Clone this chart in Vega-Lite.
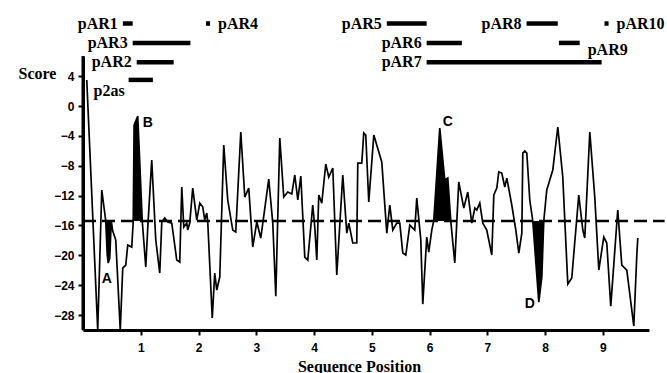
{
  "$schema": "https://vega.github.io/schema/vega-lite/v6.json",
  "width": 566,
  "height": 274,
  "autosize": {"type": "none"},
  "padding": {"left": 83, "top": 56, "right": 18, "bottom": 43},
  "background": "white",
  "config": {"view": {"stroke": null}},
  "datasets": {
    "score": [
      {"x":0.065,"y":3.49},{"x":0.255,"y":-30},{"x":0.325,"y":-11.25},
      {"x":0.394,"y":-15.4,"region":"A"},{"x":0.42,"y":-19.96,"region":"A"},{"x":0.437,"y":-21.03,"region":"A"},{"x":0.463,"y":-20.36,"region":"A"},{"x":0.489,"y":-15.4,"region":"A"},
      {"x":0.515,"y":-16.75},{"x":0.567,"y":-17.95},{"x":0.645,"y":-30},{"x":0.688,"y":-21.71},{"x":0.74,"y":-21.3},{"x":0.775,"y":-18.62},{"x":0.844,"y":-18.89},
      {"x":0.87,"y":-15.4,"region":"B"},{"x":0.885,"y":-2.55,"region":"B"},{"x":0.948,"y":-1.34,"region":"B"},{"x":1.026,"y":-15.4,"region":"B"},
      {"x":1.087,"y":-21.57},{"x":1.121,"y":-16.35},{"x":1.19,"y":-7.23},{"x":1.26,"y":-17.95},{"x":1.329,"y":-22.37},{"x":1.364,"y":-15.54},{"x":1.416,"y":-15.0},{"x":1.468,"y":-15.54},{"x":1.537,"y":-15.68},{"x":1.623,"y":-20.63},{"x":1.675,"y":-20.9},{"x":1.71,"y":-10.85},{"x":1.745,"y":-16.21},{"x":1.797,"y":-15.68},{"x":1.814,"y":-16.61},{"x":1.848,"y":-15.68},{"x":1.9,"y":-10.99},{"x":1.97,"y":-15.27},{"x":2.022,"y":-13.0},{"x":2.074,"y":-13.53},{"x":2.108,"y":-15.27},{"x":2.143,"y":-14.34},{"x":2.16,"y":-15.54},{"x":2.238,"y":-28.4},{"x":2.281,"y":-22.37},{"x":2.316,"y":-24.65},{"x":2.368,"y":-22.91},{"x":2.437,"y":-5.23},{"x":2.506,"y":-12.59},{"x":2.593,"y":-16.61},{"x":2.645,"y":-16.88},{"x":2.732,"y":-3.48},{"x":2.801,"y":-12.19},{"x":2.87,"y":-10.99},{"x":2.939,"y":-18.89},{"x":3.009,"y":-15.54},{"x":3.078,"y":-17.68},{"x":3.216,"y":-9.78},{"x":3.286,"y":-15.68},{"x":3.338,"y":-25.46},{"x":3.407,"y":-4.29},{"x":3.476,"y":-12.19},{"x":3.545,"y":-11.52},{"x":3.615,"y":-11.79},{"x":3.667,"y":-9.24},{"x":3.719,"y":-12.59},{"x":3.771,"y":-9.38},{"x":3.84,"y":-20.23},{"x":3.892,"y":-20.63},{"x":3.978,"y":-13.26},{"x":4.013,"y":-16.21},{"x":4.048,"y":-20.63},{"x":4.082,"y":-11.92},{"x":4.134,"y":-13.0},{"x":4.203,"y":-7.77},{"x":4.255,"y":-9.51},{"x":4.325,"y":-8.31},{"x":4.394,"y":-22.64},{"x":4.498,"y":-9.24},{"x":4.567,"y":-17.02},{"x":4.602,"y":-15.68},{"x":4.671,"y":-18.35},{"x":4.74,"y":-18.35},{"x":4.758,"y":-7.64},{"x":4.827,"y":-7.64},{"x":4.861,"y":-3.62},{"x":4.896,"y":-3.89},{"x":4.948,"y":-12.86},{"x":5.035,"y":-3.89},{"x":5.173,"y":-7.5},{"x":5.26,"y":-17.02},{"x":5.312,"y":-13.26},{"x":5.364,"y":-16.61},{"x":5.433,"y":-15.68},{"x":5.485,"y":-15.68},{"x":5.537,"y":-19.69},{"x":5.589,"y":-19.96},{"x":5.658,"y":-15.94},{"x":5.744,"y":-16.61},{"x":5.779,"y":-12.33},{"x":5.849,"y":-17.95},{"x":5.883,"y":-26.53},{"x":5.952,"y":-17.55},{"x":5.987,"y":-19.56},{"x":6.039,"y":-16.61},
      {"x":6.073,"y":-15.4,"region":"C"},{"x":6.177,"y":-2.95,"region":"C"},{"x":6.264,"y":-9.91,"region":"C"},{"x":6.316,"y":-9.65,"region":"C"},{"x":6.368,"y":-15.4,"region":"C"},
      {"x":6.437,"y":-21.03},{"x":6.506,"y":-10.18},{"x":6.593,"y":-13.67},{"x":6.662,"y":-11.52},{"x":6.732,"y":-15.68},{"x":6.784,"y":-13.67},{"x":6.818,"y":-13.93},{"x":6.87,"y":-13.0},{"x":6.922,"y":-15.68},{"x":6.991,"y":-16.61},{"x":7.078,"y":-19.96},{"x":7.113,"y":-11.92},{"x":7.165,"y":-10.99},{"x":7.199,"y":-8.84},{"x":7.251,"y":-8.98},{"x":7.303,"y":-10.85},{"x":7.338,"y":-9.65},{"x":7.424,"y":-13.26},{"x":7.494,"y":-16.61},{"x":7.546,"y":-19.69},{"x":7.598,"y":-17.02},{"x":7.615,"y":-6.3},{"x":7.65,"y":-6.03},{"x":7.684,"y":-6.3},{"x":7.736,"y":-12.59},
      {"x":7.788,"y":-15.4,"region":"D"},{"x":7.892,"y":-26.26,"region":"D"},{"x":7.944,"y":-22.91,"region":"D"},{"x":7.978,"y":-15.4,"region":"D"},
      {"x":8.03,"y":-11.25},{"x":8.134,"y":-8.57},{"x":8.221,"y":-2.81},{"x":8.307,"y":-9.51},{"x":8.394,"y":-23.85},{"x":8.463,"y":-23.04},{"x":8.515,"y":-18.22},{"x":8.584,"y":-11.92},{"x":8.654,"y":-16.61},{"x":8.688,"y":-17.68},{"x":8.775,"y":-3.48},{"x":8.861,"y":-12.19},{"x":8.931,"y":-21.97},{"x":9.017,"y":-17.55},{"x":9.069,"y":-18.35},{"x":9.138,"y":-26.8},{"x":9.259,"y":-13.93},{"x":9.329,"y":-21.3},{"x":9.416,"y":-21.97},{"x":9.537,"y":-29.47},{"x":9.589,"y":-19.96},{"x":9.606,"y":-17.68}
    ],
    "clones": [
      {"name":"pAR1","start":0.69,"end":0.86,"lane":11.05},
      {"name":"pAR4","start":2.13,"end":2.2,"lane":11.05},
      {"name":"pAR3","start":0.86,"end":1.86,"lane":8.45},
      {"name":"pAR2","start":0.93,"end":1.57,"lane":5.85},
      {"name":"p2as","start":0.79,"end":1.21,"lane":3.5},
      {"name":"pAR5","start":5.26,"end":5.95,"lane":11.05},
      {"name":"pAR8","start":7.68,"end":8.22,"lane":11.05},
      {"name":"pAR10","start":9.03,"end":9.1,"lane":11.05},
      {"name":"pAR6","start":5.95,"end":6.56,"lane":8.45},
      {"name":"pAR9","start":8.24,"end":8.6,"lane":8.45},
      {"name":"pAR7","start":5.95,"end":8.98,"lane":5.85}
    ],
    "letters": [
      {"label":"A","x":0.411,"y":-23.18},
      {"label":"B","x":1.121,"y":-2.28},
      {"label":"C","x":6.316,"y":-2.14},
      {"label":"D","x":7.736,"y":-26.53}
    ],
    "yaxis": [{"x": 0, "ymin": -30, "ymax": 6.7}],
    "one": [{"threshold": -15.4, "xstart": 0, "xend": 10.07}]
  },
  "encoding": {
    "x": {"type": "quantitative", "scale": {"domain": [0, 9.8], "nice": false, "zero": false},
      "axis": {"values": [1,2,3,4,5,6,7,8,9], "format": "d", "grid": false,
        "domainColor": "black", "domainWidth": 3, "tickColor": "black", "tickWidth": 2, "tickSize": 5,
        "labelFont": "Liberation Sans", "labelFontWeight": "bold", "labelFontSize": 12, "labelColor": "black", "labelPadding": 7,
        "title": "Sequence Position", "titleFont": "Liberation Serif", "titleFontWeight": "bold", "titleFontSize": 16, "titleColor": "black", "titlePadding": 5, "titleX": 276}},
    "y": {"type": "quantitative", "scale": {"domain": [-30, 6.7], "nice": false, "zero": false},
      "axis": {"values": [4,0,-4,-8,-12,-16,-20,-24,-28], "grid": false, "labelOverlap": false,
        "domain": true, "domainColor": "black", "domainWidth": 3,
        "tickColor": "black", "tickWidth": 2, "tickSize": 5,
        "labelFont": "Liberation Sans", "labelFontWeight": "bold", "labelFontSize": 12, "labelColor": "black", "labelPadding": 4,
        "title": "Score", "titleAngle": 0, "titleX": -46, "titleY": 17, "titleAlign": "center", "titleBaseline": "middle",
        "titleFont": "Liberation Serif", "titleFontWeight": "bold", "titleFontSize": 16, "titleColor": "black"}}
  },
  "layer": [
    {
      "data": {"name": "score"},
      "transform": [{"filter": "datum.region != null"}],
      "mark": {"type": "area", "color": "black", "opacity": 1},
      "encoding": {
        "x": {"field": "x"},
        "y": {"field": "y"},
        "y2": {"datum": -15.4},
        "detail": {"field": "region", "type": "nominal"}
      }
    },
    {
      "data": {"name": "score"},
      "mark": {"type": "line", "color": "black", "strokeWidth": 1.7},
      "encoding": {"x": {"field": "x"}, "y": {"field": "y"}}
    },
    {
      "data": {"name": "one"},
      "mark": {"type": "rule", "color": "black", "strokeWidth": 2.5, "strokeDash": [13, 6]},
      "encoding": {"x": {"field": "xstart"}, "x2": {"field": "xend"}, "y": {"field": "threshold"}}
    },
    {
      "data": {"name": "clones"},
      "mark": {"type": "rule", "color": "black", "strokeWidth": 4.5},
      "encoding": {"x": {"field": "start"}, "x2": {"field": "end"}, "y": {"field": "lane"}}
    },
    {
      "data": {"name": "clones"},
      "transform": [{"filter": {"field": "name", "oneOf": ["pAR1","pAR3","pAR2","pAR5","pAR8","pAR6","pAR7"]}}],
      "mark": {"type": "text", "align": "right", "baseline": "middle", "dx": -5, "font": "Liberation Serif", "fontWeight": "bold", "fontSize": 16, "color": "black"},
      "encoding": {"x": {"field": "start"}, "y": {"field": "lane"}, "text": {"field": "name"}}
    },
    {
      "data": {"name": "clones"},
      "transform": [{"filter": {"field": "name", "oneOf": ["pAR4","pAR10"]}}],
      "mark": {"type": "text", "align": "left", "baseline": "middle", "dx": 8, "font": "Liberation Serif", "fontWeight": "bold", "fontSize": 16, "color": "black"},
      "encoding": {"x": {"field": "end"}, "y": {"field": "lane"}, "text": {"field": "name"}}
    },
    {
      "data": {"name": "clones"},
      "transform": [{"filter": {"field": "name", "equal": "pAR9"}}],
      "mark": {"type": "text", "align": "left", "baseline": "middle", "dx": 8, "dy": 7, "font": "Liberation Serif", "fontWeight": "bold", "fontSize": 16, "color": "black"},
      "encoding": {"x": {"field": "end"}, "y": {"field": "lane"}, "text": {"field": "name"}}
    },
    {
      "data": {"name": "clones"},
      "transform": [{"filter": {"field": "name", "equal": "p2as"}}],
      "mark": {"type": "text", "align": "right", "baseline": "middle", "dx": -4, "dy": 11, "font": "Liberation Serif", "fontWeight": "bold", "fontSize": 16, "color": "black"},
      "encoding": {"x": {"field": "start"}, "y": {"field": "lane"}, "text": {"field": "name"}}
    },
    {
      "data": {"name": "letters"},
      "mark": {"type": "text", "align": "center", "baseline": "middle", "font": "Liberation Sans", "fontWeight": "bold", "fontSize": 14, "color": "black"},
      "encoding": {"x": {"field": "x"}, "y": {"field": "y"}, "text": {"field": "label"}}
    },
    {
      "data": {"name": "yaxis"},
      "mark": {"type": "rule", "color": "black", "strokeWidth": 3},
      "encoding": {"x": {"field": "x"}, "y": {"field": "ymin"}, "y2": {"field": "ymax"}}
    }
  ]
}
